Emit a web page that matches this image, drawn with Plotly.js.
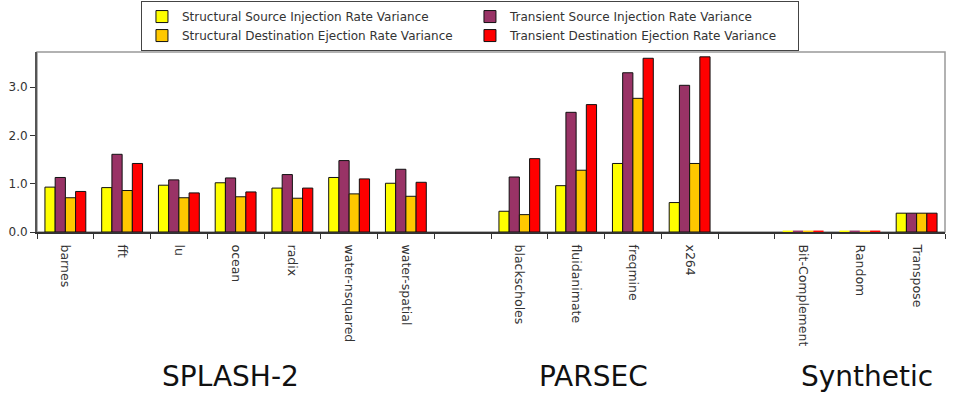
<!DOCTYPE html>
<html>
<head>
<meta charset="utf-8">
<script src="https://cdn.plot.ly/plotly-3.0.1.min.js"></script>
<style>
  html, body { margin: 0; padding: 0; background: #ffffff; }
  #chart { width: 954px; height: 399px; }
</style>
</head>
<body>
<div id="chart"></div>
<script>
// Benchmark slots along the x axis; the two blank slots separate the suites.
const categories = [
  'barnes', 'fft', 'lu', 'ocean', 'radix', 'water-nsquared', 'water-spatial',
  ' ',
  'blackscholes', 'fluidanimate', 'freqmine', 'x264',
  '  ',
  'Bit-Complement', 'Random', 'Transpose'
];

// Benchmarks that carry bars (same order as the series below).
const benchmarks = [
  'barnes', 'fft', 'lu', 'ocean', 'radix', 'water-nsquared', 'water-spatial',
  'blackscholes', 'fluidanimate', 'freqmine', 'x264',
  'Bit-Complement', 'Random', 'Transpose'
];

const structuralSource = [0.93, 0.92, 0.97, 1.02, 0.91, 1.13, 1.01, 0.43, 0.96, 1.42, 0.61, 0.03, 0.03, 0.39];
const transientSource  = [1.13, 1.61, 1.08, 1.12, 1.19, 1.48, 1.30, 1.14, 2.48, 3.30, 3.04, 0.03, 0.03, 0.39];
const structuralDest   = [0.71, 0.86, 0.71, 0.73, 0.70, 0.79, 0.74, 0.36, 1.28, 2.77, 1.42, 0.03, 0.03, 0.39];
const transientDest    = [0.84, 1.42, 0.81, 0.83, 0.91, 1.10, 1.03, 1.52, 2.64, 3.60, 3.63, 0.03, 0.03, 0.39];

const seriesNames = [
  'Structural Source Injection Rate Variance',
  'Transient Source Injection Rate Variance',
  'Structural Destination Ejection Rate Variance',
  'Transient Destination Ejection Rate Variance'
];
const seriesColors = ['#ffff00', '#993366', '#ffc800', '#ff0000'];
const seriesValues = [structuralSource, transientSource, structuralDest, transientDest];

// Suite captions under the benchmark names.
const suiteNames = ['SPLASH-2', 'PARSEC', 'Synthetic'];
const suiteX = [0.2126, 0.6134, 0.9145];

const FONT = 'DejaVu Sans, sans-serif';

const traces = seriesValues.map((vals, i) => ({
  type: 'bar',
  name: seriesNames[i],
  x: benchmarks,
  y: vals,
  marker: {
    color: seriesColors[i],
    // near-zero bars are drawn as a thin coloured sliver without an outline
    line: { color: '#111111', width: vals.map(v => (v < 0.05 ? 0 : 1)) }
  },
  hoverinfo: 'x+y+name'
}));

const layout = {
  width: 954,
  height: 399,
  margin: { l: 37, r: 9, t: 52, b: 167, autoexpand: false },
  paper_bgcolor: '#ffffff',
  plot_bgcolor: '#ffffff',
  barmode: 'group',
  bargap: 0.28,
  bargroupgap: 0,
  font: { family: FONT, size: 12, color: '#333333' },
  showlegend: true,
  legend: {
    orientation: 'h',
    x: 0.1145,
    xanchor: 'left',
    y: 1.283,
    yanchor: 'top',
    entrywidth: 283,
    entrywidthmode: 'pixels',
    bordercolor: '#444444',
    borderwidth: 1,
    bgcolor: '#ffffff',
    font: { family: FONT, size: 12, color: '#333333' },
    traceorder: 'normal',
    tracegroupgap: 0
  },
  xaxis: {
    type: 'category',
    categoryorder: 'array',
    categoryarray: categories,
    range: [-0.5, categories.length - 0.5],
    tickson: 'boundaries',
    ticks: 'outside',
    ticklen: 5,
    tickwidth: 1,
    tickcolor: '#333333',
    tickangle: 90,
    ticklabelstandoff: 8,
    tickfont: { family: FONT, size: 12.5, color: '#333333' },
    showline: true,
    linecolor: '#333333',
    linewidth: 2,
    showgrid: false,
    zeroline: false,
    fixedrange: true
  },
  yaxis: {
    range: [0, 3.73],
    tickvals: [0, 1, 2, 3],
    tickformat: '.1f',
    ticks: 'outside',
    ticklen: 5,
    tickwidth: 1,
    tickcolor: '#333333',
    tickfont: { family: FONT, size: 12, color: '#333333' },
    showline: true,
    linecolor: '#555555',
    linewidth: 2,
    showgrid: false,
    zeroline: false,
    fixedrange: true
  },
  shapes: [
    // light frame around the plotting area (top and right edges)
    {
      type: 'rect', xref: 'paper', yref: 'paper',
      x0: 0, x1: 1, y0: 0, y1: 1,
      line: { color: '#999999', width: 1.5 },
      fillcolor: 'rgba(0,0,0,0)',
      layer: 'below'
    }
  ],
  annotations: suiteNames.map((name, i) => ({
    text: name,
    xref: 'paper', yref: 'paper',
    x: suiteX[i], y: -0.8,
    xanchor: 'center', yanchor: 'middle',
    showarrow: false,
    font: { family: FONT, size: 28, color: '#111111' }
  }))
};

Plotly.newPlot('chart', traces, layout, { displayModeBar: false, staticPlot: true });
</script>
</body>
</html>
